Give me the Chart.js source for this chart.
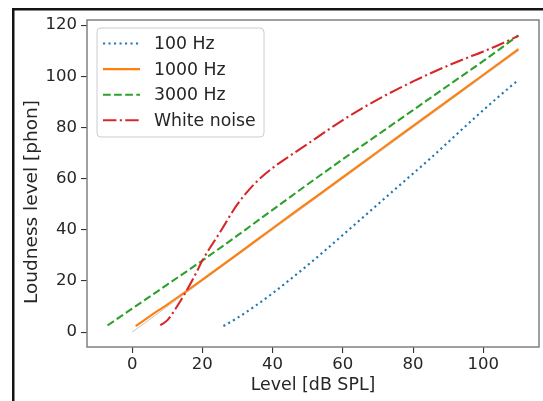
<!DOCTYPE html>
<html>
<head>
<meta charset="utf-8">
<script src="https://cdn.jsdelivr.net/npm/chart.js@4.4.1/dist/chart.umd.min.js"></script>
<style>
    html, body { margin: 0; padding: 0; background: #fff; }
    #wrap { position: relative; width: 543px; height: 401px; }
</style>
</head>
<body>
<div id="wrap"><canvas id="loudness" width="543" height="401"></canvas></div>
<script>
// 100 Hz 순음
const level100 = [26, 30, 35, 40, 45, 50, 55, 60, 65, 70, 75, 80, 85, 90, 95, 100, 105, 110];
const phon100 = [2.4, 5.6, 10.2, 15.2, 20.6, 26.2, 32, 38, 44, 50, 56, 62, 68, 74.3, 80.6, 86.8, 92.8, 98.6];

// 1000 Hz 순음
const level1000 = [1, 5, 10, 15, 20, 30, 40, 50, 60, 70, 80, 90, 100, 110];
const phon1000 = [2.4, 6.2, 10.8, 15.6, 20.5, 30.5, 40.6, 50.6, 60.6, 70.6, 80.6, 90.6, 100.6, 110.6];

// 3000 Hz 순음
const level3000 = [-7, 0, 10, 20, 30, 40, 50, 60, 70, 80, 90, 100, 110];
const phon3000 = [2.6, 9.2, 18.6, 28, 37.8, 47.8, 57.8, 67.6, 77.2, 86.8, 96.4, 106, 116];

// 백색 잡음
const levelNoise = [8, 10, 12, 15, 18, 20, 25, 30, 35, 40, 45, 50, 55, 60, 65, 70, 75, 80, 85, 90, 95, 100, 105, 110];
const phonNoise = [2.7, 4.6, 8.4, 15, 22.5, 28, 39, 50, 58.2, 64.2, 69, 73.6, 78.3, 82.9, 87.1, 91, 94.6, 98, 101.2, 104.2, 107, 109.7, 112.6, 115.8];

// 기준선 (level = phon)
const levelRef = [0, 110];
const phonRef = [0, 110];

const xTicks = [0, 20, 40, 60, 80, 100];
const yTicks = [0, 20, 40, 60, 80, 100, 120];

const seriesLabels = ['100 Hz', '1000 Hz', '3000 Hz', 'White noise'];

const FONT = "'DejaVu Sans', sans-serif";
const TEXT = '#262626';
const LW = 2.1;

const toPoints = (xs, ys) => xs.map((x, i) => ({ x: x, y: ys[i] }));

// 축 테두리, 바깥 프레임, y축 제목, 범례
const decorations = {
    id: 'decorations',
    afterDraw(chart) {
        const ctx = chart.ctx;
        const a = chart.chartArea;
        ctx.save();

        // spines
        ctx.strokeStyle = '#808080';
        ctx.lineWidth = 1.5;
        ctx.strokeRect(a.left, a.top, a.right - a.left, a.bottom - a.top);

        // outer frame (top / left)
        ctx.fillStyle = '#141414';
        ctx.fillRect(12, 8, 543, 2.5);
        ctx.fillRect(12, 8, 2.5, 401);

        // y axis title
        ctx.save();
        ctx.translate(32, 202);
        ctx.rotate(-Math.PI / 2);
        ctx.font = '18.5px ' + FONT;
        ctx.fillStyle = TEXT;
        ctx.textAlign = 'center';
        ctx.textBaseline = 'middle';
        ctx.fillText('Loudness level [phon]', 0, 0);
        ctx.restore();

        // legend
        const bx = 97, by = 28, bw = 167, bh = 109, r = 4;
        ctx.beginPath();
        ctx.moveTo(bx + r, by);
        ctx.arcTo(bx + bw, by, bx + bw, by + bh, r);
        ctx.arcTo(bx + bw, by + bh, bx, by + bh, r);
        ctx.arcTo(bx, by + bh, bx, by, r);
        ctx.arcTo(bx, by, bx + bw, by, r);
        ctx.closePath();
        ctx.fillStyle = 'rgba(255,255,255,0.8)';
        ctx.fill();
        ctx.strokeStyle = '#cccccc';
        ctx.lineWidth = 1;
        ctx.stroke();

        ctx.font = '17.3px ' + FONT;
        ctx.textBaseline = 'middle';
        ctx.textAlign = 'left';
        seriesLabels.forEach((label, i) => {
            const ds = chart.data.datasets[i];
            const y = 43.5 + i * 25.6;
            ctx.beginPath();
            ctx.setLineDash(ds.borderDash || []);
            ctx.strokeStyle = ds.borderColor;
            ctx.lineWidth = ds.borderWidth;
            ctx.moveTo(103, y);
            ctx.lineTo(140, y);
            ctx.stroke();
            ctx.setLineDash([]);
            ctx.fillStyle = TEXT;
            ctx.fillText(label, 154, y + 1);
        });

        ctx.restore();
    }
};

const ctx = document.getElementById('loudness').getContext('2d');

new Chart(ctx, {
    type: 'line',
    data: {
        datasets: [
            {
                label: seriesLabels[0],
                data: toPoints(level100, phon100),
                borderColor: '#1f77b4',
                borderWidth: LW,
                borderDash: [2.1, 3.4],
                order: 4
            },
            {
                label: seriesLabels[1],
                data: toPoints(level1000, phon1000),
                borderColor: '#ff7f0e',
                borderWidth: LW,
                order: 3
            },
            {
                label: seriesLabels[2],
                data: toPoints(level3000, phon3000),
                borderColor: '#2ca02c',
                borderWidth: LW,
                borderDash: [7.7, 3.4],
                order: 2
            },
            {
                label: seriesLabels[3],
                data: toPoints(levelNoise, phonNoise),
                borderColor: '#d62728',
                borderWidth: LW,
                borderDash: [13.4, 3.4, 2.1, 3.4],
                order: 1
            },
            {
                label: 'reference',
                data: toPoints(levelRef, phonRef),
                borderColor: '#c4c4c4',
                borderWidth: 1,
                order: 5
            }
        ]
    },
    options: {
        responsive: false,
        animation: false,
        devicePixelRatio: 1,
        elements: {
            point: { radius: 0 },
            line: { cubicInterpolationMode: 'monotone', fill: false }
        },
        layout: {
            padding: { left: 0, top: 20, right: 4, bottom: 0 }
        },
        plugins: {
            legend: { display: false },
            tooltip: { enabled: false }
        },
        scales: {
            x: {
                type: 'linear',
                min: -12.85,
                max: 115.85,
                afterFit: s => { s.height = 54; },
                afterBuildTicks: s => { s.ticks = xTicks.map(v => ({ value: v })); },
                border: { display: false },
                grid: { drawOnChartArea: false, drawTicks: true, tickLength: 6, tickColor: '#333', lineWidth: 1.1 },
                ticks: { padding: 2, color: TEXT, font: { family: FONT, size: 16.5 }, maxRotation: 0 },
                title: {
                    display: true,
                    text: 'Level [dB SPL]',
                    color: TEXT,
                    font: { family: FONT, size: 17.4 },
                    padding: { top: 0, bottom: 5.5 }
                }
            },
            y: {
                type: 'linear',
                min: -5.8,
                max: 122,
                afterFit: s => { s.width = 87; },
                afterBuildTicks: s => { s.ticks = yTicks.map(v => ({ value: v })); },
                border: { display: false },
                grid: { drawOnChartArea: false, drawTicks: true, tickLength: 6, tickColor: '#333', lineWidth: 1.1 },
                ticks: { padding: 4, color: TEXT, font: { family: FONT, size: 16.5 } }
            }
        }
    },
    plugins: [decorations]
});
</script>
</body>
</html>
